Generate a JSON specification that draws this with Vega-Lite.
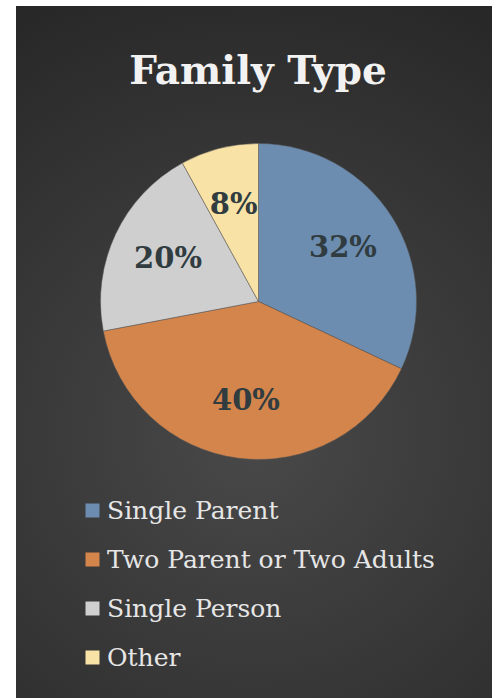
{
  "$schema": "https://vega.github.io/schema/vega-lite/v6.json",
  "width": 476,
  "height": 692,
  "autosize": {"type": "none"},
  "padding": {"left": 16, "top": 6, "right": 8, "bottom": 0},
  "background": "white",
  "title": {
    "text": "Family Type",
    "font": "DejaVu Serif",
    "fontSize": 39,
    "fontWeight": "bold",
    "color": "#f2f2f2",
    "anchor": "middle",
    "offset": -86,
    "dx": 4
  },
  "layer": [
    {
      "data": {"values": [{"bg": 1}]},
      "mark": {
        "type": "rect",
        "x": 0,
        "x2": "width",
        "y": 0,
        "y2": "height",
        "color": {
          "gradient": "radial",
          "x1": 0.5, "y1": 0.62, "r1": 0,
          "x2": 0.5, "y2": 0.62, "r2": 0.75,
          "stops": [
            {"offset": 0, "color": "#494949"},
            {"offset": 1, "color": "#252525"}
          ]
        }
      },
      "encoding": {}
    },
    {
      "data": {
        "values": [
          {"type": "Single Parent", "share": 32, "label": "32%", "ord": 1},
          {"type": "Two Parent or Two Adults", "share": 40, "label": "40%", "ord": 2},
          {"type": "Single Person", "share": 20, "label": "20%", "ord": 3},
          {"type": "Other", "share": 8, "label": "8%", "ord": 4}
        ]
      },
      "encoding": {
        "theta": {"field": "share", "type": "quantitative", "stack": true},
        "order": {"field": "ord", "type": "quantitative"}
      },
      "layer": [
        {
          "mark": {"type": "arc", "outerRadius": 158, "x": 242.5, "y": 295.5, "stroke": "#555555", "strokeWidth": 0.5},
          "encoding": {
            "color": {
              "field": "type",
              "type": "nominal",
              "sort": ["Single Parent", "Two Parent or Two Adults", "Single Person", "Other"],
              "scale": {
                "domain": ["Single Parent", "Two Parent or Two Adults", "Single Person", "Other"],
                "range": ["#6c8db0", "#d4854b", "#cfcfcf", "#f8e2a6"]
              },
              "legend": {
                "orient": "none",
                "legendX": 64,
                "legendY": 492,
                "title": null,
                "symbolType": "square",
                "symbolSize": 196,
                "symbolStrokeWidth": 0,
                "labelFont": "DejaVu Serif",
                "labelFontSize": 25,
                "labelColor": "#e6e6e6",
                "rowPadding": 23,
                "labelOffset": 2,
                "padding": 0,
                "labelLimit": 0
              }
            }
          }
        },
        {
          "mark": {
            "type": "text",
            "radius": 100,
            "x": 242.5,
            "y": 295.5,
            "font": "DejaVu Serif",
            "fontSize": 29,
            "fontWeight": "bold",
            "color": "#303c40"
          },
          "encoding": {
            "text": {"field": "label"}
          }
        }
      ]
    }
  ],
  "config": {
    "view": {"stroke": null}
  }
}
